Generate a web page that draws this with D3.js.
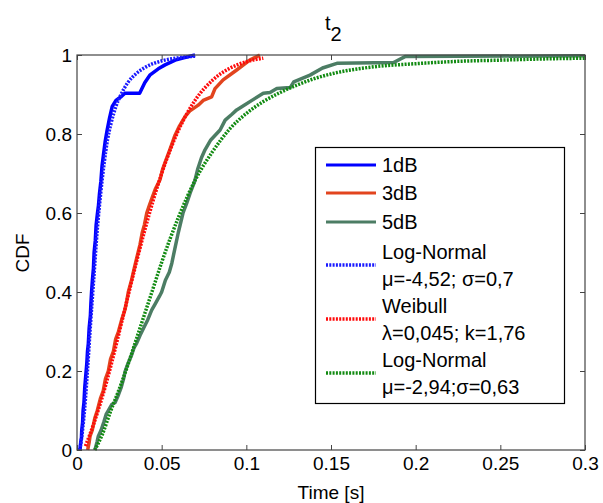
<!DOCTYPE html>
<html>
<head>
<meta charset="utf-8">
<script src="https://cdn.jsdelivr.net/npm/d3@7"></script>
<style>
  body { margin: 0; background: #fff; }
  svg { display: block; }
  text { font-family: "Liberation Sans", Arial, sans-serif; fill: #000; }
</style>
</head>
<body>
<svg width="603" height="503"></svg>
<script>
"use strict";

// tick values
var xTicks = [0, 0.05, 0.1, 0.15, 0.2, 0.25, 0.3];
var yTicks = [0, 0.2, 0.4, 0.6, 0.8, 1];

var emp1dB = [[0.0018,0],[0.0022,0.02],[0.0026,0.03],[0.0028,0.05],[0.0033,0.07],[0.0036,0.1],[0.0041,0.12],
  [0.0046,0.16],[0.0052,0.19],[0.0058,0.22],[0.0062,0.25],[0.0067,0.27],[0.0072,0.31],[0.0079,0.34],[0.0082,0.37],
  [0.0086,0.4],[0.0091,0.43],[0.0097,0.46],[0.0101,0.5],[0.0108,0.53],[0.0113,0.57],[0.0121,0.6],[0.0127,0.62],
  [0.0133,0.65],[0.0141,0.68],[0.0148,0.72],[0.0157,0.75],[0.0166,0.78],[0.0178,0.81],[0.0192,0.84],
  [0.0208,0.87],[0.023,0.885],[0.0262,0.895],[0.0283,0.903],[0.037,0.903],[0.040,0.93],[0.043,0.949],
  [0.048,0.965],[0.052,0.975],[0.058,0.987],[0.063,0.993],[0.0697,1]];
var emp3dB = [[0.0063,0],[0.0072,0.02],[0.0077,0.035],[0.009,0.05],[0.0105,0.08],[0.012,0.1],[0.0138,0.13],
  [0.0155,0.15],[0.0168,0.18],[0.0185,0.2],[0.0198,0.23],[0.0215,0.25],[0.0228,0.28],[0.0245,0.3],
  [0.0264,0.33],[0.0283,0.355],[0.0295,0.38],[0.0303,0.4],[0.0322,0.43],[0.0338,0.46],[0.0355,0.49],
  [0.0372,0.52],[0.0385,0.55],[0.0398,0.57],[0.0412,0.6],[0.0428,0.62],[0.0445,0.64],[0.0462,0.66],
  [0.049,0.684],[0.0505,0.71],[0.0522,0.73],[0.0548,0.76],[0.0579,0.797],[0.0605,0.82],[0.0638,0.844],
  [0.0665,0.858],[0.0716,0.873],[0.0745,0.885],[0.0795,0.894],[0.0815,0.915],[0.0863,0.937],[0.0943,0.962],
  [0.102,0.987],[0.108,1]];
var emp5dB = [[0.0106,0],[0.0118,0.02],[0.0126,0.035],[0.0142,0.05],[0.0158,0.07],[0.0172,0.09],[0.0185,0.10],
  [0.0205,0.115],[0.0225,0.12],[0.0245,0.14],[0.0262,0.16],[0.0275,0.18],[0.0285,0.2],[0.0302,0.22],
  [0.0322,0.24],[0.0338,0.26],[0.0352,0.27],[0.0372,0.29],[0.0395,0.31],[0.0418,0.33],[0.0441,0.354],
  [0.0462,0.37],[0.0488,0.39],[0.050,0.40],[0.0522,0.43],[0.0545,0.45],[0.056,0.473],[0.0578,0.51],
  [0.0598,0.55],[0.0626,0.6],[0.0648,0.625],[0.0672,0.655],[0.0695,0.68],[0.0712,0.71],[0.0735,0.74],
  [0.0756,0.76],[0.079,0.785],[0.0845,0.81],[0.0875,0.835],[0.0915,0.85],[0.0943,0.861],[0.0985,0.872],
  [0.104,0.887],[0.110,0.903],[0.114,0.905],[0.118,0.915],[0.126,0.918],[0.128,0.932],[0.1376,0.949],
  [0.145,0.967],[0.1535,0.979],[0.187,0.981],[0.1937,0.996],[0.3,0.998]];

// fitted curves, points, [time, cdf]
var fitLogN1 = [[0.0015,0],[0.002,0.01],[0.003,0.04],[0.004,0.08],[0.005,0.13],[0.006,0.19],[0.008,0.32],
  [0.010,0.44],[0.012,0.56],[0.014,0.65],[0.016,0.725],[0.018,0.785],[0.020,0.825],[0.023,0.87],[0.026,0.9],
  [0.030,0.93],[0.035,0.953],[0.040,0.968],[0.050,0.985],[0.060,0.993],[0.070,0.997]];
var fitWeib3 = [[0.005,0.01],[0.01,0.068],[0.015,0.135],[0.02,0.213],[0.025,0.299],[0.03,0.387],[0.035,0.474],
  [0.04,0.556],[0.045,0.632],[0.05,0.70],[0.055,0.759],[0.06,0.81],[0.07,0.887],[0.08,0.936],[0.09,0.966],
  [0.10,0.983],[0.11,0.992]];
var fitLogN5 = [[0.0105,0],[0.015,0.04],[0.02,0.1],[0.025,0.155],[0.03,0.215],[0.035,0.28],[0.04,0.345],
  [0.045,0.41],[0.05,0.475],[0.055,0.535],[0.06,0.59],[0.07,0.685],[0.08,0.755],[0.09,0.812],[0.10,0.852],
  [0.11,0.882],[0.12,0.905],[0.13,0.924],[0.14,0.94],[0.15,0.952],[0.175,0.97],[0.2,0.978],[0.225,0.984],
  [0.25,0.987],[0.275,0.99],[0.3,0.992]];

var seriesNames = ["1dB", "3dB", "5dB"];
var fitNames = [["Log-Normal", "\u03bc=-4,52; \u03c3=0,7"],
                ["Weibull", "\u03bb=0,045; k=1,76"],
                ["Log-Normal", "\u03bc=-2,94;\u03c3=0,63"]];

var empColors = ["#0000ff", "#e2441e", "#4c7d64"];
var fitColors = ["#1a1aff", "#ff0a0a", "#118a11"];

var svg = d3.select("svg");
var plotL = 77, plotR = 585, plotT = 55, plotB = 450;

var x = d3.scaleLinear().domain([0, 0.3]).range([plotL, plotR]);
var y = d3.scaleLinear().domain([0, 1]).range([plotB, plotT]);

var plot = svg.append("g");

// curves
var empLine = d3.line().x(function(d){ return x(d[0]); }).y(function(d){ return y(d[1]); });
var fitLine = d3.line().x(function(d){ return x(d[0]); }).y(function(d){ return y(d[1]); })
                .curve(d3.curveMonotoneX);

[emp1dB, emp3dB, emp5dB].forEach(function(d, i) {
  plot.append("path").attr("d", empLine(d))
      .attr("fill", "none").attr("stroke", empColors[i]).attr("stroke-width", 3.5)
      .attr("stroke-linejoin", "round");
});
[fitLogN1, fitWeib3, fitLogN5].forEach(function(d, i) {
  plot.append("path").attr("d", fitLine(d))
      .attr("fill", "none").attr("stroke", fitColors[i]).attr("stroke-width", 3.5)
      .attr("stroke-dasharray", "2,1.3");
});

// axes with inside ticks, box on
function styleAxis(g) {
  g.select(".domain").remove();
  g.selectAll(".tick line").attr("stroke", "#444");
  g.selectAll(".tick text").style("font-size", "19px")
   .style("font-family", "'Liberation Sans', Arial, sans-serif").attr("fill", "#000");
}
svg.append("g").attr("transform", "translate(0," + plotB + ")")
   .call(d3.axisBottom(x).tickValues(xTicks).tickFormat(d3.format("")).tickSizeInner(-5).tickPadding(7))
   .call(styleAxis);
svg.append("g").attr("transform", "translate(0," + plotT + ")")
   .call(d3.axisTop(x).tickValues(xTicks).tickFormat("").tickSizeInner(-5))
   .call(styleAxis);
svg.append("g").attr("transform", "translate(" + plotL + ",0)")
   .call(d3.axisLeft(y).tickValues(yTicks).tickFormat(d3.format("")).tickSizeInner(-5).tickPadding(5))
   .call(styleAxis);
svg.append("g").attr("transform", "translate(" + plotR + ",0)")
   .call(d3.axisRight(y).tickValues(yTicks).tickFormat("").tickSizeInner(-5))
   .call(styleAxis);

svg.append("rect").attr("x", plotL).attr("y", plotT)
   .attr("width", plotR - plotL).attr("height", plotB - plotT)
   .attr("fill", "none").attr("stroke", "#444").attr("stroke-width", 1.2);

// labels
svg.append("text").attr("x", 331).attr("y", 499).attr("text-anchor", "middle")
   .style("font-size", "19px").text("Time [s]");
svg.append("text").attr("transform", "translate(29,253) rotate(-90)").attr("text-anchor", "middle")
   .style("font-size", "19px").text("CDF");
var title = svg.append("text").attr("x", 325).attr("y", 30).style("font-size", "20px");
title.append("tspan").text("t");
title.append("tspan").attr("dy", 11).text("2");

// legend
var lg = svg.append("g");
lg.append("rect").attr("x", 315.5).attr("y", 147.5).attr("width", 249).attr("height", 256)
  .attr("fill", "#fff").attr("stroke", "#000").attr("stroke-width", 1.2);
var rowY = [165, 193, 222];
seriesNames.forEach(function(name, i) {
  lg.append("line").attr("x1", 326).attr("x2", 376).attr("y1", rowY[i]).attr("y2", rowY[i])
    .attr("stroke", empColors[i]).attr("stroke-width", 3);
  lg.append("text").attr("x", 382).attr("y", rowY[i] + 7).style("font-size", "20px").text(name);
});
var fitY = [265, 319, 373];
fitNames.forEach(function(lines, i) {
  lg.append("line").attr("x1", 326).attr("x2", 376).attr("y1", fitY[i]).attr("y2", fitY[i])
    .attr("stroke", fitColors[i]).attr("stroke-width", 3.5).attr("stroke-dasharray", "2,1.3");
  lg.append("text").attr("x", 382).attr("y", fitY[i] - 6).style("font-size", "20px").text(lines[0]);
  lg.append("text").attr("x", 382).attr("y", fitY[i] + 21).style("font-size", "20px").text(lines[1]);
});
</script>
</body>
</html>
